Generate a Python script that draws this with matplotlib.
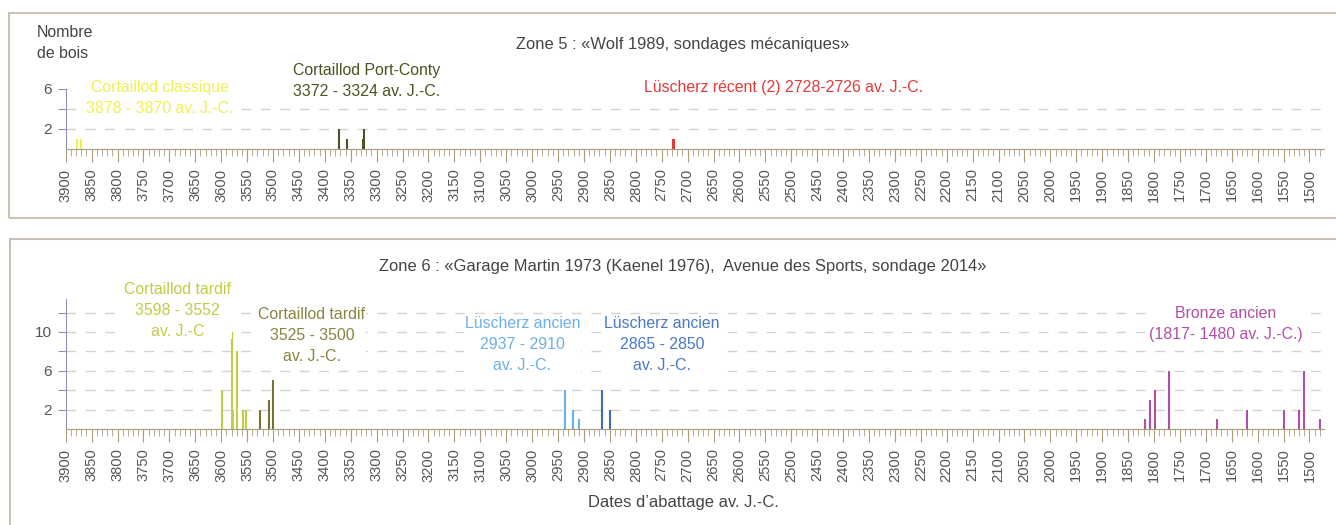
import matplotlib
matplotlib.use("Agg")
import matplotlib.pyplot as plt
import numpy as np
from matplotlib import font_manager
from matplotlib.patches import Rectangle

# police étroite si disponible
noms = {f.name for f in font_manager.fontManager.ttflist}
if 'Liberation Sans Narrow' in noms:
    FAMILLE = ['Liberation Sans Narrow', 'DejaVu Sans']
    K = 1.0
else:
    FAMILLE = ['Liberation Sans', 'DejaVu Sans']
    K = 0.85
plt.rcParams['font.family'] = FAMILLE

# ---- données : zone 5 ----
z5_classique_annees = [3878, 3870]
z5_classique_bois = [1, 1]
z5_portconty_annees = [3372, 3358, 3326, 3324]
z5_portconty_bois = [2, 1, 1, 2]
z5_luscherz_annees = [2728, 2726]
z5_luscherz_bois = [1, 1]

# ---- données : zone 6 ----
z6_tardif1_annees = [3598, 3580, 3577, 3569, 3557, 3552]
z6_tardif1_bois = [4, 10, 2, 8, 2, 2]
z6_tardif2_annees = [3525, 3508, 3500]
z6_tardif2_bois = [2, 3, 5]
z6_luscherz1_annees = [2937, 2921, 2910]
z6_luscherz1_bois = [4, 2, 1]
z6_luscherz2_annees = [2865, 2850]
z6_luscherz2_bois = [4, 2]
z6_bronze_annees = [1817, 1807, 1798, 1772, 1678, 1620, 1550, 1521, 1510, 1480]
z6_bronze_bois = [1, 3, 4, 6, 1, 2, 2, 2, 6, 1]

x_ticks = list(range(3900, 1499, -50))

GRIS_TXT = '#555555'
COUL_AXE_X = '#a89c7c'
COUL_AXE_Y = '#8c92b8'
COUL_GRILLE = '#d2d2d2'


def regler_axe(ax, ymax, yticks, ylabels, grille):
    ax.set_xlim(3900, 1472)
    ax.set_ylim(0, ymax)
    ax.spines['top'].set_visible(False)
    ax.spines['right'].set_visible(False)
    ax.spines['bottom'].set_color(COUL_AXE_X)
    ax.spines['left'].set_color(COUL_AXE_Y)
    ax.set_xticks(x_ticks)
    ax.set_xticklabels([str(t) for t in x_ticks], rotation=90)
    ax.set_xticks(np.arange(3900, 1471, -10), minor=True)
    ax.tick_params(axis='x', which='major', length=9, color=COUL_AXE_X,
                   labelsize=12.5 * K, labelcolor=GRIS_TXT, pad=5)
    ax.tick_params(axis='x', which='minor', length=5, color=COUL_AXE_X)
    ax.set_yticks(yticks)
    ax.set_yticklabels(ylabels)
    ax.tick_params(axis='y', length=6, color=COUL_AXE_Y,
                   labelsize=13 * K, labelcolor=GRIS_TXT, pad=4)
    for g in grille:
        ax.axhline(g, color=COUL_GRILLE, lw=1, ls=(0, (7, 7)), zorder=0)
    ax.patch.set_alpha(0)


def barres(ax, annees, bois, couleur):
    ax.vlines(annees, 0, bois, colors=couleur, lw=1.5, zorder=2)


def etiquette(ax, x, y, texte, couleur):
    ax.text(x, y, texte, color=couleur, fontsize=13.5 * K, ha='center',
            va='center', linespacing=1.5, zorder=3, clip_on=False,
            bbox=dict(facecolor='white', edgecolor='none', pad=0.5))


fig = plt.figure(figsize=(13.36, 5.25), dpi=100)
W, H = 1336, 525

# cadres
for (x0, y0, x1, y1) in [(9, 13, 1345, 218), (10, 239, 1345, 540)]:
    fig.patches.append(Rectangle((x0 / W, 1 - y1 / H), (x1 - x0) / W, (y1 - y0) / H,
                                 transform=fig.transFigure, fill=False,
                                 edgecolor='#c9c2b4', lw=1.5))

# ---- zone 5 ----
ax1 = fig.add_axes([65.7 / W, 1 - 149 / H, (1324 - 65.7) / W, 60 / H])
regler_axe(ax1, 6, [2, 4, 6], ['2', '', '6'], [2, 4])
barres(ax1, z5_classique_annees, z5_classique_bois, '#f2f050')
barres(ax1, z5_portconty_annees, z5_portconty_bois, '#4d5322')
barres(ax1, z5_luscherz_annees, z5_luscherz_bois, '#e43a3a')
etiquette(ax1, 3718, 5.05, 'Cortaillod classique\n3878 - 3870 av. J.-C.', '#f2f050')
etiquette(ax1, 3319, 6.8, 'Cortaillod Port-Conty\n3372 - 3324 av. J.-C.', '#4d5322')
etiquette(ax1, 2514, 6.1, 'Lüscherz récent (2) 2728-2726 av. J.-C.', '#e43a3a')

# ---- zone 6 ----
ax2 = fig.add_axes([65.7 / W, 1 - 429 / H, (1324 - 65.7) / W, 130 / H])
regler_axe(ax2, 13.4, [2, 4, 6, 8, 10, 12], ['2', '', '6', '', '10', ''],
           [2, 4, 6, 8, 10, 12])
barres(ax2, z6_tardif1_annees, z6_tardif1_bois, '#c2cc44')
barres(ax2, z6_tardif2_annees, z6_tardif2_bois, '#77723a')
barres(ax2, z6_luscherz1_annees, z6_luscherz1_bois, '#6cb0ea')
barres(ax2, z6_luscherz2_annees, z6_luscherz2_bois, '#3f6cc4')
barres(ax2, z6_bronze_annees, z6_bronze_bois, '#b14fa8')
etiquette(ax2, 3684, 12.24, 'Cortaillod tardif\n3598 - 3552\nav. J.-C', '#c2cc44')
etiquette(ax2, 3425, 9.67, 'Cortaillod tardif\n3525 - 3500\nav. J.-C.', '#8a8442')
etiquette(ax2, 3019, 8.74, 'Lüscherz ancien\n2937 - 2910\nav. J.-C.', '#6cb0ea')
etiquette(ax2, 2749, 8.74, 'Lüscherz ancien\n2865 - 2850\nav. J.-C.', '#4a78c8')
etiquette(ax2, 1661, 10.85, 'Bronze ancien\n(1817- 1480 av. J.-C.)', '#b14fa8')

# textes
fig.text(37 / W, 1 - 43 / H, 'Nombre\nde bois', color='#444444', fontsize=13.5 * K,
         ha='left', va='center', linespacing=1.5)
fig.text(683 / W, 1 - 45 / H, 'Zone 5 : «Wolf 1989, sondages mécaniques»',
         color='#444444', fontsize=14 * K, ha='center', va='center')
fig.text(683 / W, 1 - 267 / H,
         'Zone 6 : «Garage Martin 1973 (Kaenel 1976),  Avenue des Sports, sondage 2014»',
         color='#444444', fontsize=14 * K, ha='center', va='center')
fig.text(683 / W, 1 - 503 / H, 'Dates d\u2019abattage av. J.-C.', color='#444444',
         fontsize=14 * K, ha='center', va='center')

fig.savefig('out.png', dpi=100)
